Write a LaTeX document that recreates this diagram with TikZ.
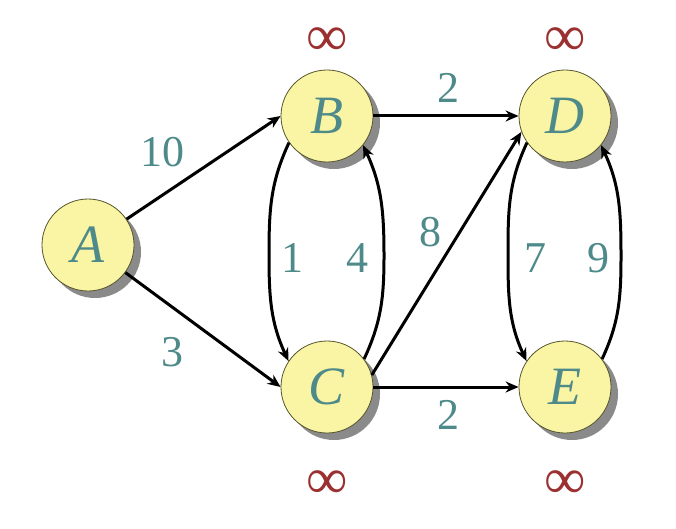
\documentclass[tikz,border=0pt]{standalone}
\usepackage{fontspec}
\setmainfont{Liberation Serif}
\usetikzlibrary{arrows.meta,shadows}
\definecolor{nodefill}{HTML}{FAF5A5}
\definecolor{nodeline}{HTML}{55542A}
\definecolor{lbl}{HTML}{4F8A8A}
\definecolor{inf}{HTML}{9B3030}
\definecolor{shade}{HTML}{8A8A8A}
\begin{document}
\begin{tikzpicture}[x=1pt,y=1pt,
  vertex/.style={circle,minimum size=92pt,inner sep=0pt,fill=nodefill,draw=nodeline,line width=0.8pt,
    drop shadow={shadow xshift=7pt,shadow yshift=-7pt,fill=shade,opacity=1},
    text=lbl,font=\fontsize{54}{54}\selectfont\itshape},
  wt/.style={text=lbl,font=\fontsize{44}{44}\selectfont,inner sep=0pt},
  dist/.style={text=inf,font=\fontsize{58}{58}\selectfont,inner sep=0pt},
  edge/.style={line width=3pt,-{Stealth[length=13pt,width=11pt]}}]
\useasboundingbox (0,0) rectangle (676,528);
\node[vertex] (A) at (88,283) {A};
\node[vertex] (B) at (327,412) {B};
\node[vertex] (C) at (327,141) {C};
\node[vertex] (D) at (565,412) {D};
\node[vertex] (E) at (565,141) {E};
\coordinate (bcL) at (269,272);
\coordinate (cbR) at (384,272);
\coordinate (deL) at (508,272);
\coordinate (edR) at (621,272);
\draw[edge] (A) -- (B.180);
\draw[edge] (A) -- (C.180);
\draw[edge] (B) -- (D);
\draw[edge] (C) -- (E);
\draw[edge] (C.15) -- (D.200);
\draw[edge] (B.215) to[out=245,in=90] (bcL) to[out=-90,in=115] (C.146);
\draw[edge] (C.37) to[out=65,in=-90] (cbR) to[out=90,in=-65] (B.321);
\draw[edge] (D.215) to[out=245,in=90] (deL) to[out=-90,in=115] (E.146);
\draw[edge] (E.37) to[out=65,in=-90] (edR) to[out=90,in=-65] (D.321);
\node[wt] (w1) at (162,376) {10};
\node[wt] (w2) at (172,176) {3};
\node[wt] (w3) at (448,440) {2};
\node[wt] (w4) at (448,113) {2};
\node[wt] (w5) at (430,296) {8};
\node[wt] (w6) at (292,270) {1};
\node[wt] (w7) at (357,270) {4};
\node[wt] (w8) at (535,270) {7};
\node[wt] (w9) at (598,270) {9};
\node[dist] (dB) at (327,486) {∞};
\node[dist] (dD) at (565,486) {∞};
\node[dist] (dC) at (327,43) {∞};
\node[dist] (dE) at (565,43) {∞};
\end{tikzpicture}
\end{document}
